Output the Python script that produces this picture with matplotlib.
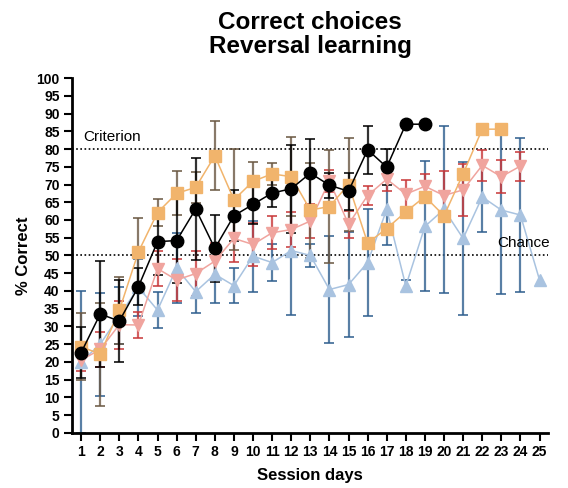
import numpy as np
import matplotlib
matplotlib.use('Agg')
import matplotlib.pyplot as plt

nan = np.nan

days = np.arange(1, 26)

# black circles
black_mean = [22.6, 33.5, 31.5, 41.2, 53.9, 54.2, 63.1, 52.0, 61.2, 64.4, 67.6, 68.8,
              73.2, 69.8, 68.1, 79.8, 74.9, 87.0, 87.0]
black_err = [7.2, 14.8, 11.5, 5.3, 9.4, 12.0, 14.4, 9.4, 7.2, 5.6, 4.0, 12.4,
             9.7, 3.5, 5.2, 6.8, 5.0, nan, nan]

# orange squares
orange_mean = [24.3, 22.2, 34.5, 51.0, 62.1, 67.5, 69.2, 78.1, 65.7, 70.9, 73.0, 72.2,
               62.8, 63.8, 70.0, 53.5, 57.6, 62.3, 66.6, 61.2, 73.0, 85.6, 85.6]
orange_err = [9.4, 14.5, 9.4, 9.7, 3.9, 6.2, 4.4, 9.7, 14.2, 5.4, 3.0, 11.1,
              13.4, 16.0, 13.0, nan, nan, nan, nan, nan, nan, nan, nan]

# red triangles (down)
red_mean = [20.5, 23.5, 30.5, 30.4, 46.3, 43.1, 44.9, 48.4, 54.8, 53.1, 56.4, 57.3,
            59.7, 71.0, 58.8, 66.9, 71.5, 67.3, 69.5, 66.9, 68.5, 75.4, 72.2, 75.2]
red_err = [3.0, 5.0, 6.8, 3.8, 5.0, 6.0, 6.3, 5.0, 6.7, 6.0, 4.6, 5.0,
           4.7, 3.0, 3.8, 2.7, 3.3, 3.9, 3.5, 7.0, 7.4, 4.4, 4.6, 4.1]

# blue triangles (up)
blue_mean = [20.0, 25.0, 33.0, 41.0, 34.6, 46.4, 39.8, 44.7, 41.5, 49.8, 48.0, 51.4,
             50.0, 40.4, 41.8, 48.0, 63.0, 41.4, 58.2, 63.0, 54.8, 66.5, 62.8, 61.4, 43.1]
blue_err = [20.0, 14.5, 8.0, 8.0, 5.0, 9.9, 6.0, 8.0, 5.0, 10.0, 5.1, 18.2,
            3.2, 15.0, 14.8, 15.0, 10.0, 1.7, 18.3, 23.6, 21.5, 10.0, 23.6, 21.8, nan]

plt.rcParams['font.family'] = ['Liberation Sans', 'DejaVu Sans']

fig = plt.figure(figsize=(5.68, 4.88), dpi=100)
ax = fig.add_axes([0.127, 0.113, 0.838, 0.727])

# 每组：均值、误差、点颜色、误差线颜色、marker
groups = [
    (blue_mean, blue_err, '#a9c3e0', '#2f5f8f', '^', 9),
    (red_mean, red_err, '#f0a49e', '#c8383a', 'v', 9),
    (orange_mean, orange_err, '#f1b46c', '#6b5843', 's', 8.8),
    (black_mean, black_err, '#000000', '#000000', 'o', 9),
]

for mean, err, col, ecol, mk, ms in groups:
    x = days[:len(mean)]
    ax.errorbar(x, mean, yerr=err, fmt='none', ecolor=ecol, elinewidth=1.6,
                capsize=3.8, capthick=1.4, alpha=0.8, zorder=2)
for mean, err, col, ecol, mk, ms in groups:
    x = days[:len(mean)]
    ax.plot(x, mean, color=col, lw=1.1, marker=mk, markersize=ms,
            markeredgecolor=col, zorder=3)

# criterion / chance lines
ax.axhline(80, color='black', ls=(0, (1, 1.5)), lw=1.2, zorder=1)
ax.axhline(50, color='black', ls=(0, (1, 1.5)), lw=1.2, zorder=1)
ax.text(1.1, 81.5, 'Criterion', fontsize=11, ha='left', va='bottom')
ax.text(22.8, 51.5, 'Chance', fontsize=11, ha='left', va='bottom', clip_on=False)

ax.set_xlim(0.53, 25.45)
ax.set_ylim(0, 100)
ax.set_xticks(days)
ax.set_yticks(np.arange(0, 101, 5))
ax.tick_params(axis='both', direction='out', length=5.5, width=1.5, labelsize=10)
for lab in ax.get_xticklabels() + ax.get_yticklabels():
    lab.set_fontweight('bold')

ax.spines['top'].set_visible(False)
ax.spines['right'].set_visible(False)
ax.spines['left'].set_linewidth(2)
ax.spines['bottom'].set_linewidth(2)

ax.set_xlabel('Session days', fontsize=12, fontweight='bold', labelpad=6)
ax.set_ylabel('% Correct', fontsize=12, fontweight='bold', labelpad=4)
ax.set_title('Correct choices\nReversal learning', fontsize=17.5, fontweight='bold',
             pad=18, linespacing=1.05)

plt.savefig('out.png', dpi=100)
